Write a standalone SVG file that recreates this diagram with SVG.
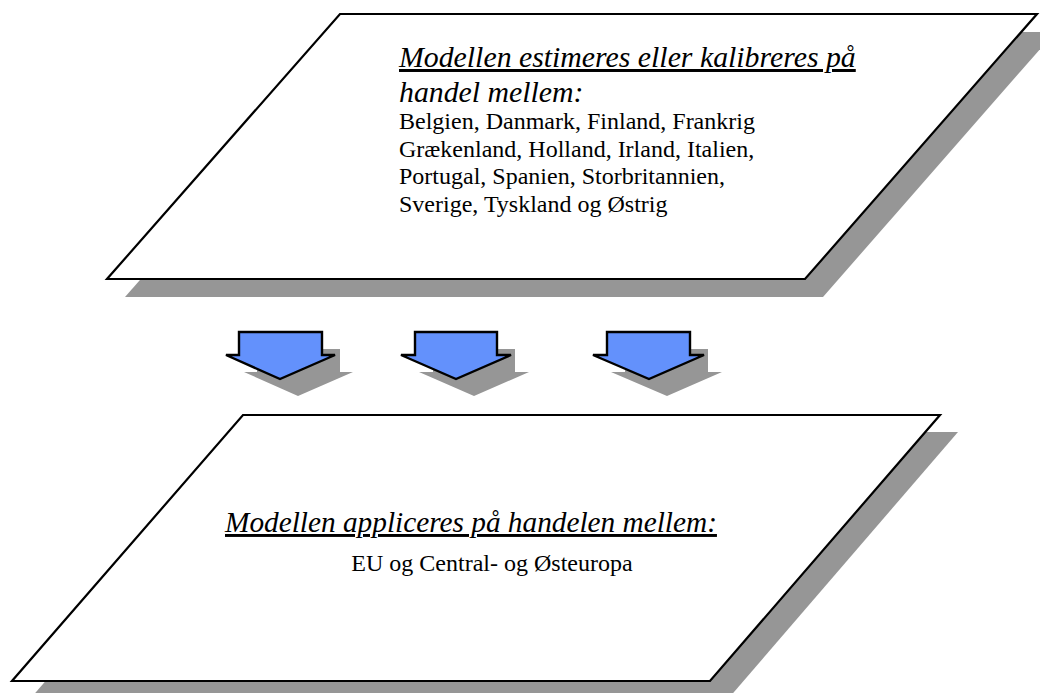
<svg xmlns="http://www.w3.org/2000/svg" width="1040" height="693" viewBox="0 0 1040 693">
<style>
.shadow{fill:#969696;stroke:none}
.plane{fill:#ffffff;stroke:#000000;stroke-width:2.2;stroke-linejoin:miter}
.arrow{fill:#6391fc;stroke:#000000;stroke-width:2.4;stroke-linejoin:miter}
.head{font-family:"Liberation Serif","Times New Roman",serif;font-style:italic;font-size:29.3px;fill:#000}
.head2{font-size:29.8px}
.body{font-family:"Liberation Serif","Times New Roman",serif;font-size:24px;fill:#000}
.ul{text-decoration:underline}
</style>
<rect width="1040" height="693" fill="#ffffff"/>
<g id="top-plane">
<polygon class="shadow" points="358,32 1055,32 823,297 125,297"/>
<polygon class="plane" points="340,14 1037,14 805,279 107,279"/>
<text class="head head2 ul" x="399" y="67">Modellen estimeres eller kalibreres på</text>
<text class="head head2" x="399" y="102">handel mellem:</text>
<text class="body" x="399" y="129">Belgien, Danmark, Finland, Frankrig</text>
<text class="body" x="399" y="157">Grækenland, Holland, Irland, Italien,</text>
<text class="body" x="399" y="184">Portugal, Spanien, Storbritannien,</text>
<text class="body" x="399" y="212">Sverige, Tyskland og Østrig</text>
</g>
<g id="connectors">
<g id="arrow1">
<polygon class="shadow" points="257,349 340,349 340,372 353,372 298,396 244,372 257,372"/>
<polygon class="arrow" points="239,332 322,332 322,355 335,355 280,379 226,355 239,355"/>
</g>
<g id="arrow2">
<polygon class="shadow" points="433,349 515,349 515,372 529,372 474,396 419,372 433,372"/>
<polygon class="arrow" points="415,332 497,332 497,355 511,355 456,379 401,355 415,355"/>
</g>
<g id="arrow3">
<polygon class="shadow" points="625,349 708,349 708,372 722,372 667,396 611,372 625,372"/>
<polygon class="arrow" points="607,332 690,332 690,355 704,355 649,379 593,355 607,355"/>
</g>
</g>
<g id="bottom-plane">
<polygon class="shadow" points="261,432 958,432 728,699 30,699"/>
<polygon class="plane" points="243,415 940,415 710,681 12,681"/>
<text class="head ul" x="225" y="532">Modellen appliceres på handelen mellem:</text>
<text class="body" x="492" y="571" text-anchor="middle">EU og Central- og Østeuropa</text>
</g>
</svg>
